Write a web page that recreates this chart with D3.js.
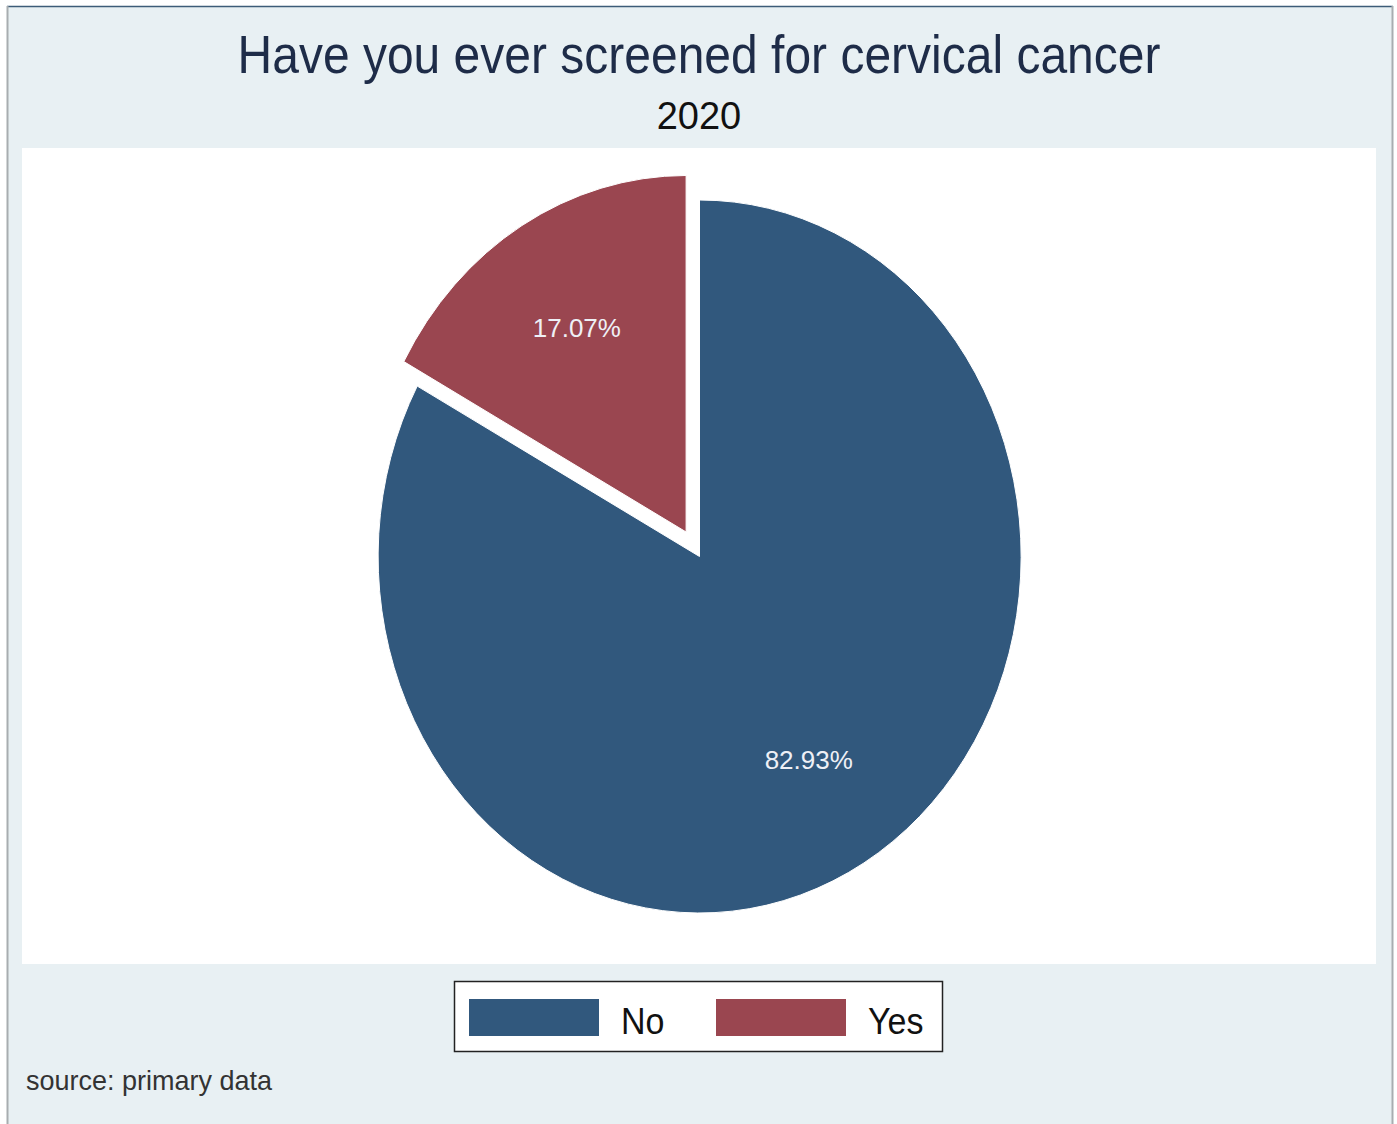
<!DOCTYPE html>
<html>
<head>
<meta charset="utf-8">
<script src="https://cdn.jsdelivr.net/npm/d3@7"></script>
<style>
  html, body { margin: 0; padding: 0; background: #ffffff; }
  svg { display: block; }
  text { font-family: "Liberation Sans", Arial, sans-serif; }
</style>
</head>
<body>
<svg id="chart" width="1397" height="1124"></svg>
<script>
const categories = ["No", "Yes"];
const values = [82.93, 17.07];
const colors = ["#31587d", "#9a4650"];
const explode = [false, true];
const titleText = "Have you ever screened for cervical cancer";
const subtitleText = "2020";
const noteText = "source: primary data";

const svg = d3.select("#chart");
const W = 1397, H = 1124;

// outer background
svg.append("rect").attr("x", 0).attr("y", 0).attr("width", W).attr("height", H).attr("fill", "#ffffff");
svg.append("rect").attr("x", 7).attr("y", 6).attr("width", 1385).attr("height", 1124)
  .attr("fill", "#e8f0f3");
// borders
svg.append("line").attr("x1", 7).attr("x2", 1393).attr("y1", 6.5).attr("y2", 6.5).attr("stroke", "#3d5c78").attr("stroke-width", 1.5);
svg.append("line").attr("x1", 7.5).attr("x2", 7.5).attr("y1", 6).attr("y2", H).attr("stroke", "#a8adb0").attr("stroke-width", 2);
svg.append("line").attr("x1", 1392.5).attr("x2", 1392.5).attr("y1", 6).attr("y2", H).attr("stroke", "#a8adb0").attr("stroke-width", 2);

// plot region
svg.append("rect").attr("x", 22).attr("y", 148).attr("width", 1354).attr("height", 816).attr("fill", "#ffffff");

// title
svg.append("text").attr("transform", "translate(699,73) scale(1,1.12)")
  .attr("text-anchor", "middle").attr("font-size", 48).attr("fill", "#1e2c48").text(titleText);
svg.append("text").attr("transform", "translate(699,129) scale(1,1.04)")
  .attr("text-anchor", "middle").attr("font-size", 38).attr("fill", "#111111").text(subtitleText);

// pie (elliptical, as in reference)
const cx = 699.5, cy = 556.5, rx = 321.5, ry = 356.5;
const pie = d3.pie().sort(null).value(d => d.value).startAngle(0).endAngle(2 * Math.PI);
const data = categories.map((c, i) => ({ cat: c, value: values[i], color: colors[i], explode: explode[i] }));
const arcs = pie(data);
const arc = d3.arc().innerRadius(0).outerRadius(1);
const explodeDist = 0.08;

const gPie = svg.append("g").attr("transform", `translate(${cx},${cy})`);
arcs.forEach(a => {
  const mid = (a.startAngle + a.endAngle) / 2;
  const off = a.data.explode ? explodeDist : 0;
  const dx = Math.sin(mid) * off * rx * 1.02;
  const dy = -Math.cos(mid) * off * ry;
  const g = gPie.append("g").attr("transform", `translate(${dx},${dy})`);
  g.append("path")
    .attr("d", arc(a))
    .attr("transform", `scale(${rx},${ry})`)
    .attr("fill", a.data.color)
    .attr("stroke", "#ffffff")
    .attr("stroke-width", 1)
    .attr("vector-effect", "non-scaling-stroke");
  const lr = 0.665;
  g.append("text")
    .attr("x", Math.sin(mid) * lr * rx)
    .attr("y", -Math.cos(mid) * lr * ry + 9)
    .attr("text-anchor", "middle")
    .attr("font-size", 26)
    .attr("fill", "#eef0f6")
    .text(a.data.value.toFixed(2) + "%");
});

// legend
const lg = svg.append("g");
lg.append("rect").attr("x", 454.5).attr("y", 981.5).attr("width", 488).attr("height", 70)
  .attr("fill", "#ffffff").attr("stroke", "#222222").attr("stroke-width", 1.5);
const legX = d3.scaleOrdinal().domain(categories).range([469, 716]);
categories.forEach((c, i) => {
  const x0 = legX(c);
  lg.append("rect").attr("x", x0).attr("y", 999).attr("width", 130).attr("height", 37).attr("fill", colors[i]);
  lg.append("text").attr("transform", `translate(${x0 + 152},1034) scale(1,1.08)`)
    .attr("font-size", 34).attr("fill", "#111111").text(c);
});

// note
svg.append("text").attr("transform", "translate(26,1090) scale(1,1.05)")
  .attr("font-size", 27).attr("fill", "#333333").text(noteText);
</script>
</body>
</html>
